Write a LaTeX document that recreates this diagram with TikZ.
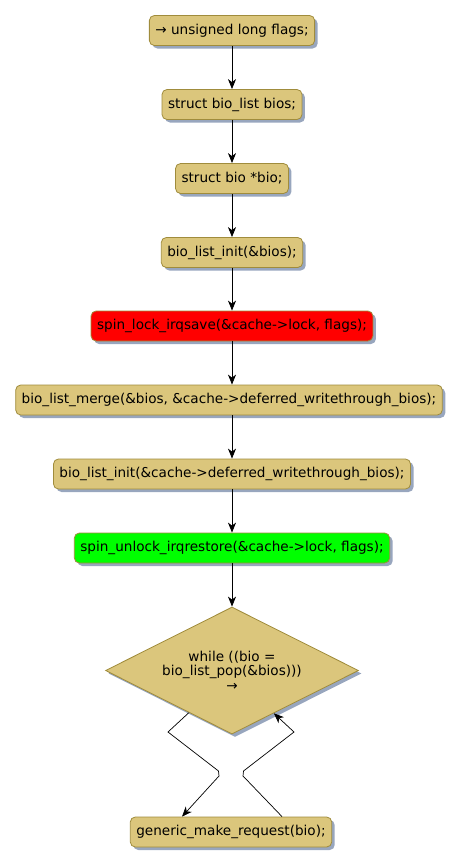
\documentclass[tikz,border=0pt]{standalone}
\usepackage{fontspec}
\setmainfont{DejaVu Sans}
\usetikzlibrary{shapes.geometric,shadows,arrows.meta,calc}
\definecolor{boxfill}{HTML}{DBC67C}
\definecolor{boxline}{HTML}{A08C3C}
\definecolor{shadowc}{HTML}{98A6BE}
\tikzset{
  box/.style={draw=boxline, fill=boxfill, rounded corners=5pt, minimum height=30pt,
    inner xsep=6pt, inner ysep=0pt, line width=0.8pt,
    font=\fontsize{13.6}{15}\selectfont,
    drop shadow={shadow xshift=3pt, shadow yshift=-3pt, fill=shadowc, opacity=1}},
  dec/.style={draw=boxline, fill=boxfill, shape=diamond, minimum width=253pt, minimum height=127pt,
    inner sep=0pt, aspect=2, line width=0.8pt, align=center,
    font=\fontsize{13.6}{14.5}\selectfont,
    drop shadow={shadow xshift=3pt, shadow yshift=-3pt, fill=shadowc, opacity=1}},
  flow/.style={draw=black, line width=0.8pt, -{Stealth[length=10pt,width=8pt,inset=3pt]}},
}
\begin{document}
\begin{tikzpicture}[x=1pt,y=-1pt]
\useasboundingbox (0,0) rectangle (466,865);
\node[box] (n1) at (232,30.5) {→ unsigned long flags;};
\node[box] (n2) at (232,104.5) {struct bio\_list bios;};
\node[box] (n3) at (232,178.5) {struct bio *bio;};
\node[box] (n4) at (232,252.5) {bio\_list\_init(\&bios);};
\node[box, fill=red] (n5) at (232,326) {spin\_lock\_irqsave(\&cache->lock, flags);};
\node[box] (n6) at (229,400) {bio\_list\_merge(\&bios, \&cache->deferred\_writethrough\_bios);};
\node[box] (n7) at (232,474) {bio\_list\_init(\&cache->deferred\_writethrough\_bios);};
\node[box, fill=green] (n8) at (232,548) {spin\_unlock\_irqrestore(\&cache->lock, flags);};
\node[dec] (d) at (232,670.5) {while ((bio =\\bio\_list\_pop(\&bios)))\\→};
\node[box] (g) at (231,832) {generic\_make\_request(bio);};
\draw[flow] (n1) -- (n2);
\draw[flow] (n2) -- (n3);
\draw[flow] (n3) -- (n4);
\draw[flow] (n4) -- (n5);
\draw[flow] (n5.south) -- (n6.north -| n5.south);
\draw[flow] (n6.south -| n5.south) -- (n7.north -| n5.south);
\draw[flow] (n7.south -| n5.south) -- (n8.north -| n5.south);
\draw[flow] (n8.south -| n5.south) -- (d.north);
\coordinate (ls) at ($(d.south)!0.34!(d.west)$);
\coordinate (re) at ($(d.south)!0.33!(d.east)$);
\coordinate (le) at ($(g.north)+(-49,0)$);
\coordinate (rs) at ($(g.north)+(51,0)$);
\draw[flow, line width=0.7pt] (ls) -- (168,732) -- (218.5,771) -- (219,776) -- (le);
\draw[flow, line width=0.7pt] (rs) -- (243,776) -- (243.5,771) -- (294,732) -- (re);
\end{tikzpicture}
\end{document}
